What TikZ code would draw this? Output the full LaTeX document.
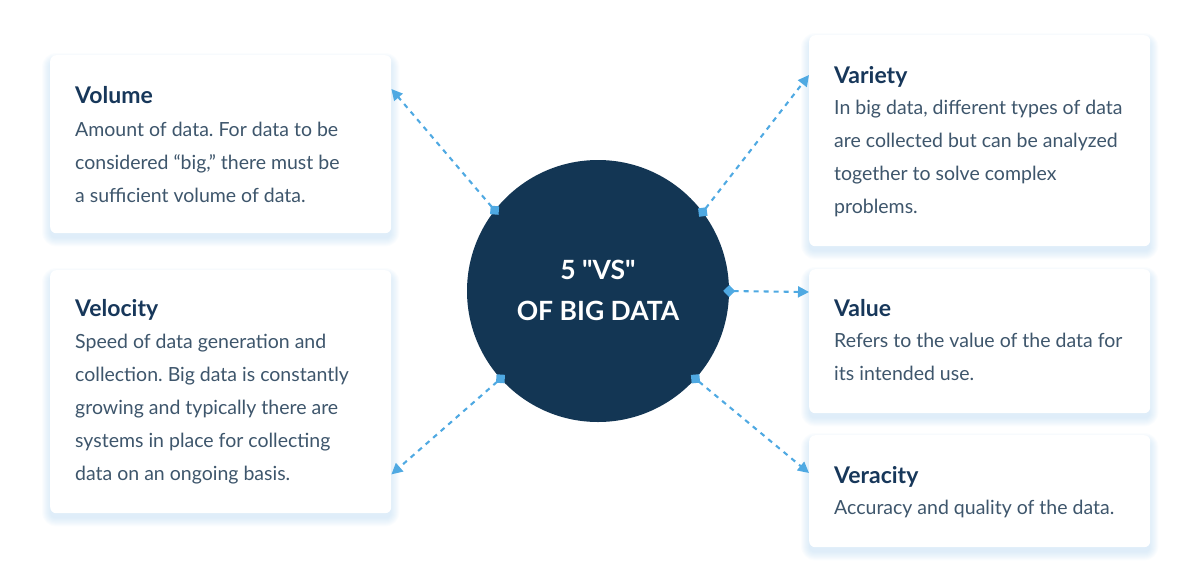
\documentclass[tikz,border=0pt]{standalone}
\usepackage{fontspec}
\setmainfont{Lato}
\usetikzlibrary{arrows.meta,backgrounds,calc}
\definecolor{navy}{HTML}{133654}
\definecolor{ttl}{HTML}{17375A}
\definecolor{bdy}{HTML}{3E566C}
\definecolor{lnk}{HTML}{4FA9E2}
\definecolor{shd}{HTML}{A9D0EE}
\newcommand\sq{\XeTeXglyph\XeTeXcharglyph"22\relax}
\frenchspacing
\begin{document}
\begin{tikzpicture}[x=1pt,y=-1pt,
 card/.style={fill=white, rounded corners=6pt, inner sep=0pt, anchor=north west, minimum width=341pt},
 ttlt/.style={anchor=base west, inner sep=0pt, font=\fontsize{23}{27}\selectfont\bfseries, text=ttl},
 bdyt/.style={anchor=base west, inner sep=0pt, align=left, font=\fontsize{19.5}{33}\selectfont, text=bdy},
 ctxt/.style={anchor=base, inner sep=0pt, text=white, font=\fontsize{26.5}{30}\selectfont\bfseries},
 link/.style={draw=lnk, line width=2.1pt, dash pattern=on 5pt off 5pt, shorten <=-6pt,
   {Diamond[length=12pt,width=12pt]}-{Triangle[length=11pt,width=11pt]}}]
\useasboundingbox (0,0) rectangle (1200,582);
% cards
\node[card, minimum height=178pt] (volume) at (50,55) {};
\node[card, minimum height=243pt] (velocity) at (50,270) {};
\node[card, minimum height=211pt] (variety) at (809,35) {};
\node[card, minimum height=144pt] (value) at (809,269) {};
\node[card, minimum height=112pt] (veracity) at (809,435) {};
\begin{scope}[on background layer]
\foreach \n in {volume,velocity,variety,value,veracity}{
 \foreach \i [evaluate=\i as \r using 6+\i] in {0,...,8}{
  \fill[shd, opacity=0.05, rounded corners=\r pt] ($(\n.south west)+(-\i,\i+5)$) rectangle ($(\n.north east)+(\i,-\i+6)$);
 }}
\end{scope}
% circle
\node[circle, fill=navy, minimum size=262pt, inner sep=0pt] (circ) at (598,291) {};
\node[ctxt] (c1) at (598,279) {5 \sq VS\sq};
\node[ctxt] (c2) at (598,320) {OF BIG DATA};
% texts
\node[ttlt] (t1) at (75,103) {Volume};
\node[bdyt] (b1) at (75,202) {Amount of data. For data to be\\considered “big,” there must be\\a sufficient volume of data.};
\node[ttlt] (t2) at (75,316) {Velocity};
\node[bdyt] (b2) at (75,480) {Speed of data generation and\\collection. Big data is constantly\\growing and typically there are\\systems in place for collecting\\data on an ongoing basis.};
\node[ttlt] (t3) at (834,83) {Variety};
\node[bdyt] (b3) at (834,213) {In big data, different types of data\\are collected but can be analyzed\\together to solve complex\\problems.};
\node[ttlt] (t4) at (834,316) {Value};
\node[bdyt] (b4) at (834,380) {Refers to the value of the data for\\its intended use.};
\node[ttlt] (t5) at (834,483) {Veracity};
\node[bdyt] (b5) at (834,514) {Accuracy and quality of the data.};
% connectors
\draw[link] (circ.142) -- ([yshift=-34pt]volume.north east);
\draw[link] (circ.37) -- ([yshift=-40pt]variety.north west);
\draw[link] (circ.0) -- ([yshift=-23pt]value.north west);
\draw[link] (circ.-42) -- ([yshift=-38pt]veracity.north west);
\draw[link] (circ.222) -- ([yshift=39pt]velocity.south east);
\end{tikzpicture}
\end{document}
